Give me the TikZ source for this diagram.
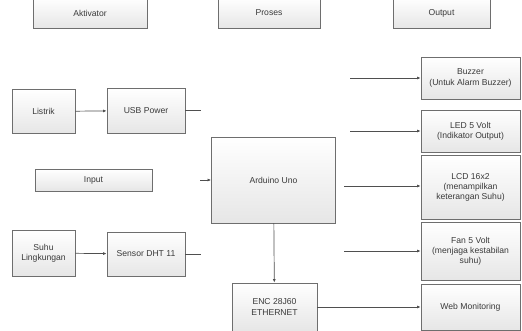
\documentclass[tikz,border=0pt]{standalone}
\usepackage{fontspec}
\setmainfont{Liberation Sans}
\usepackage{tikz}
\usetikzlibrary{arrows.meta,positioning}
\usepackage{xcolor}
\definecolor{edge}{HTML}{6E6E6E}
\definecolor{ink}{HTML}{3A3A3A}
\definecolor{wire}{HTML}{4F4F4F}
\definecolor{shadebot}{HTML}{E6E6E6}

\begin{document}
\begin{tikzpicture}[x=1pt,y=-1pt,
    box/.style n args={2}{draw=edge,line width=0.8pt,top color=white,bottom color=shadebot,
      minimum width=#1,minimum height=#2,align=center,inner sep=1pt,text=ink,
      font=\fontsize{8.6}{10.2}\selectfont},
    arr/.style={-{Latex[length=3.5pt,width=3pt]},line width=0.7pt,wire},
    ln/.style={line width=0.7pt,wire}
]
\useasboundingbox (0,0) rectangle (522,330);

% header row
\node[box={114pt}{30pt}] (akt) at (90,13) {Aktivator};
\node[box={102pt}{30pt}] (proses) at (269,13) {Proses};
\node[box={97pt}{30pt}] (output) at (441.5,13) {Output};

% input side
\node[box={63pt}{44pt}] (listrik) at (43.5,111.5) {Listrik};
\node[box={78pt}{45pt}] (usb) at (146,110.5) {USB Power};
\node[box={117pt}{22pt}] (input) at (93.5,180) {Input};
\node[box={63pt}{46pt}] (suhu) at (43.5,253) {Suhu\\Lingkungan};
\node[box={78pt}{44pt}] (dht) at (146,254) {Sensor DHT 11};

% process
\node[box={124pt}{86pt}] (uno) at (273.5,180) {Arduino Uno};
\node[box={85pt}{48pt}] (enc) at (274.5,307) {ENC 28J60\\ETHERNET};

% output side
\node[box={99pt}{42pt}] (buzzer) at (470.5,78) {Buzzer\\(Untuk Alarm Buzzer)};
\node[box={99pt}{42pt}] (led) at (470.5,131) {LED 5 Volt\\(Indikator Output)};
\node[box={99pt}{64pt}] (lcd) at (470.5,187.5) {LCD 16x2\\(menampilkan\\keterangan Suhu)};
\node[box={99pt}{58pt}] (fan) at (470.5,251) {Fan 5 Volt\\(menjaga kestabilan\\suhu)};
\node[box={99pt}{46pt}] (web) at (470.5,307) {Web Monitoring};

% free line ends
\coordinate (usbend) at (201,110.5);
\coordinate (dhtend) at (201,254);
\coordinate (unoin) at (200,180);
\coordinate (buzin) at (350,78);
\coordinate (ledin) at (350,131);
\coordinate (lcdin) at (344,186);
\coordinate (fanin) at (344,251);

\draw[arr] (listrik) -- (usb);
\draw[arr] (suhu) -- (dht);
\draw[ln] (usb.east) -- (usbend);
\draw[ln] (dht.east |- dhtend) -- (dhtend);
\draw[arr] (unoin) -- (uno.west |- unoin);
\draw[arr] (uno) -- (enc);
\draw[arr] (enc) -- (web);
\draw[arr] (buzin) -- (buzzer.west |- buzin);
\draw[arr] (ledin) -- (led.west |- ledin);
\draw[arr] (lcdin) -- (lcd.west |- lcdin);
\draw[arr] (fanin) -- (fan.west |- fanin);
\end{tikzpicture}
\end{document}
